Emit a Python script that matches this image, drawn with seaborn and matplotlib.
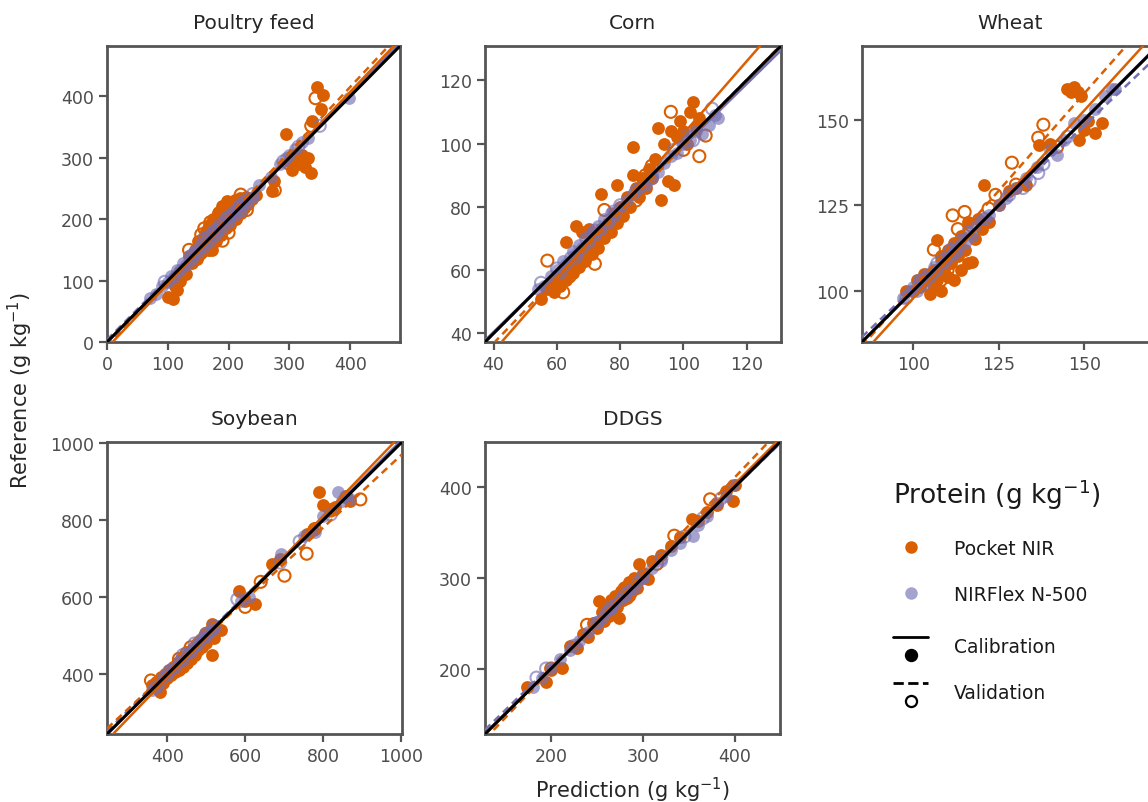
import numpy as np
import pandas as pd
import matplotlib
matplotlib.use("Agg")
import matplotlib.pyplot as plt
import seaborn as sns
from matplotlib.lines import Line2D
from matplotlib.legend_handler import HandlerBase

# (prediction, reference) pairs, protein in g/kg
poultry_pocket_cal = [(100, 74), (108, 70), (112, 92), (115, 85), (120, 100), (125, 118), (130, 110), (135, 140),
                      (140, 128), (145, 150), (148, 135), (150, 165), (155, 145), (158, 170), (160, 155), (163, 180),
                      (165, 160), (168, 190), (170, 172), (172, 150), (175, 200), (178, 185), (180, 165), (182, 210),
                      (185, 195), (188, 175), (190, 222), (193, 205), (195, 185), (198, 230), (200, 212), (203, 190),
                      (205, 228), (208, 215), (210, 232), (213, 200), (215, 225), (218, 235), (220, 210), (223, 230),
                      (225, 218), (228, 236), (232, 225), (238, 233), (245, 240), (272, 246), (275, 262), (295, 338),
                      (300, 295), (305, 280), (310, 300), (315, 290), (320, 305), (325, 285), (330, 300), (335, 275),
                      (338, 360), (346, 415), (352, 379), (356, 403)]
poultry_pocket_val = [(120, 112), (135, 150), (150, 140), (155, 175), (160, 185), (170, 195), (185, 210),
                      (190, 165), (200, 178), (210, 225), (220, 240), (168, 150), (230, 215), (276, 247),
                      (300, 290), (336, 352), (343, 397)]
poultry_flex_cal = [(70, 72), (80, 78), (90, 92), (100, 98), (105, 108), (110, 106), (115, 118), (120, 117),
                    (125, 128), (130, 126), (135, 140), (140, 135), (145, 150), (150, 146), (155, 160), (160, 155),
                    (165, 172), (170, 165), (175, 182), (180, 175), (185, 192), (190, 186), (195, 204), (200, 196),
                    (205, 212), (210, 206), (215, 222), (220, 214), (225, 232), (230, 226), (240, 236), (250, 255),
                    (270, 268), (285, 290), (295, 300), (300, 305), (310, 315), (320, 326), (330, 332), (398, 398)]
poultry_flex_val = [(95, 98), (140, 141), (160, 168), (180, 181), (200, 203), (220, 223), (240, 241), (290, 294),
                    (315, 318), (350, 352)]

corn_pocket_cal = [(55, 51), (57, 54), (58, 56), (59, 53), (60, 58), (61, 55), (62, 60), (63, 57), (63, 69),
                   (64, 62), (65, 59), (66, 64), (66, 74), (67, 61), (68, 66), (68, 72), (69, 63), (70, 68),
                   (70, 73), (71, 65), (72, 70), (73, 67), (74, 73), (74, 84), (75, 70), (76, 75), (77, 72),
                   (78, 78), (79, 75), (79, 87), (80, 80), (81, 77), (82, 83), (83, 80), (84, 99), (84, 90),
                   (85, 86), (86, 83), (87, 89), (88, 86), (89, 92), (90, 89), (91, 95), (92, 105), (93, 82),
                   (94, 100), (95, 88), (96, 104), (97, 87), (98, 102), (99, 107), (100, 104), (101, 100),
                   (102, 110), (103, 113), (104, 105), (105, 108)]
corn_pocket_val = [(57, 63), (62, 53), (64, 58), (70, 66), (75, 79), (80, 78), (85, 82), (90, 93), (96, 110),
                   (100, 98), (105, 96), (107, 102.5), (72, 62), (88, 90)]
corn_flex_cal = [(54, 54), (56, 55), (58, 58), (60, 60), (61, 59), (62, 63), (63, 62), (64, 64), (65, 66),
                 (66, 65), (67, 68), (68, 67), (69, 70), (70, 69), (71, 72), (72, 71), (73, 74), (74, 73),
                 (75, 76), (76, 75), (77, 78), (78, 77), (80, 80), (82, 82), (84, 84), (86, 86), (88, 87),
                 (90, 90), (92, 91), (94, 94), (96, 96), (98, 97), (100, 100), (101, 103), (102, 101),
                 (104, 104), (106, 103), (108, 106), (110, 109), (111, 108)]
corn_flex_val = [(55, 56), (60, 60.5), (66, 64), (72, 72.5), (78, 78.5), (85, 85), (90, 89), (97, 98), (103, 101),
                 (109, 111), (80, 80.5)]

wheat_pocket_cal = [(98, 100), (100, 100), (101, 103), (102, 101), (103, 105), (104, 103), (105, 99), (106, 101),
                    (106, 106), (107, 114.7), (107, 103), (108, 110), (108, 100), (109, 106), (110, 112),
                    (110, 104), (111, 108), (112, 114), (112, 103), (113, 110), (114, 116), (114, 106),
                    (115, 112), (116, 120), (116, 108), (117, 108.5), (118, 115), (119, 121), (120, 118),
                    (120.6, 130.9), (122, 120), (125, 125), (128, 129), (130, 130), (133, 131), (136.8, 142.6),
                    (140, 143), (145, 159), (146, 158), (147, 159.5), (148, 158), (149, 157), (148.5, 144),
                    (150, 147), (151, 149.7), (153, 146), (155, 149)]
wheat_pocket_val = [(103, 103), (105, 104), (106, 112), (108, 103), (110, 106), (111.5, 122), (113, 118),
                    (115, 123), (117, 119), (122, 124), (124, 128), (128.8, 137.4), (130, 131), (136.5, 144.7),
                    (138, 148.5), (142, 142)]
wheat_flex_cal = [(97, 98), (99, 100), (100, 101), (101, 100), (102, 103), (103, 102), (104, 105), (105, 104),
                  (106, 107), (107, 106), (108, 109), (109, 108), (110, 111), (111, 110), (112, 113), (113, 112),
                  (114, 115), (115, 114), (116, 117), (117, 116), (118, 119), (120, 121), (122, 122), (125, 125),
                  (127, 127), (130, 130), (133, 133), (136, 136), (140, 141), (142, 139.7), (144, 144),
                  (147, 149), (150, 150), (153, 153), (156, 157), (158, 158.8), (159, 159)]
wheat_flex_val = [(98, 98), (102, 103), (107, 108), (111, 112), (116, 117), (121, 121), (128, 128), (132, 130),
                  (134, 132), (136.5, 134.4), (138, 137), (145, 145), (112, 111)]

soybean_pocket_cal = [(360, 372), (370, 380), (380, 354), (385, 392), (390, 378), (395, 400), (400, 390),
                      (405, 410), (410, 398), (415, 420), (420, 405), (425, 430), (430, 412), (435, 440),
                      (440, 420), (445, 448), (450, 430), (455, 458), (460, 440), (465, 468), (470, 450),
                      (475, 478), (480, 462), (485, 490), (490, 470), (495, 500), (500, 480), (505, 510),
                      (514, 451), (515, 530), (520, 495), (538, 515), (584, 615), (600, 590), (626, 582),
                      (670, 687), (690, 700), (760, 765), (775, 775), (790, 872), (800, 840), (820, 830),
                      (830, 835), (870, 850)]
soybean_pocket_val = [(358, 384), (380, 370), (400, 395), (430, 440), (460, 470), (480, 480), (500, 505),
                      (600, 575), (640, 640), (701, 656), (758, 713), (779, 777), (820, 825), (860, 860),
                      (896, 854), (450, 455)]
soybean_flex_cal = [(360, 360), (375, 372), (390, 392), (400, 398), (410, 414), (420, 418), (430, 434),
                    (440, 438), (450, 455), (460, 458), (470, 474), (480, 478), (490, 494), (500, 498),
                    (510, 512), (520, 518), (590, 590), (610, 600), (693, 713), (750, 760), (780, 770),
                    (800, 810), (839, 872), (850, 850), (860, 860), (870, 855)]
soybean_flex_val = [(370, 365), (405, 408), (440, 450), (470, 480), (500, 505), (520, 525), (580, 595),
                    (690, 690), (740, 745), (820, 815)]

ddgs_pocket_cal = [(174, 180), (194.5, 185), (200, 198), (212, 201), (220, 225), (228, 222), (235, 238),
                   (240, 235), (245, 250), (250, 245), (252, 274), (255, 262), (258, 252), (260, 268),
                   (263, 258), (265, 275), (268, 262), (270, 280), (272, 268), (274, 255), (276, 285),
                   (278, 275), (280, 290), (282, 278), (285, 295), (288, 285), (290, 300), (293, 288),
                   (296, 315), (300, 305), (305, 298), (310, 318), (320, 325), (330, 335), (340, 345),
                   (353, 364), (360, 362), (370, 372), (380, 380), (390, 395), (398, 384), (400, 402)]
ddgs_pocket_val = [(200, 200), (239, 248), (260, 260), (270, 270), (285, 280), (300, 300), (315, 315),
                   (334, 346), (373, 386), (280, 288)]
ddgs_flex_cal = [(180, 180), (190, 190), (200, 201), (210, 210), (220, 220), (230, 230), (240, 240),
                 (250, 251), (255, 255), (260, 262), (265, 265), (270, 271), (275, 276), (280, 280),
                 (285, 286), (290, 289), (295, 296), (300, 300), (310, 310), (320, 318), (330, 330),
                 (340, 338), (354, 346), (360, 358), (370, 368), (380, 382), (390, 390), (398, 402)]
ddgs_flex_val = [(184, 190), (194.5, 200), (225, 225), (250, 250), (265, 267), (280, 281), (300, 301),
                 (320, 321), (345, 345), (365, 365), (385, 387)]

feeds = ["Poultry feed", "Corn", "Wheat", "Soybean", "DDGS"]
instruments = ["Pocket NIR", "NIRFlex N-500"]
sets = ["Calibration", "Validation"]

groups = {
    "Poultry feed": {("Pocket NIR", "Calibration"): poultry_pocket_cal, ("Pocket NIR", "Validation"): poultry_pocket_val,
                     ("NIRFlex N-500", "Calibration"): poultry_flex_cal, ("NIRFlex N-500", "Validation"): poultry_flex_val},
    "Corn": {("Pocket NIR", "Calibration"): corn_pocket_cal, ("Pocket NIR", "Validation"): corn_pocket_val,
             ("NIRFlex N-500", "Calibration"): corn_flex_cal, ("NIRFlex N-500", "Validation"): corn_flex_val},
    "Wheat": {("Pocket NIR", "Calibration"): wheat_pocket_cal, ("Pocket NIR", "Validation"): wheat_pocket_val,
              ("NIRFlex N-500", "Calibration"): wheat_flex_cal, ("NIRFlex N-500", "Validation"): wheat_flex_val},
    "Soybean": {("Pocket NIR", "Calibration"): soybean_pocket_cal, ("Pocket NIR", "Validation"): soybean_pocket_val,
                ("NIRFlex N-500", "Calibration"): soybean_flex_cal, ("NIRFlex N-500", "Validation"): soybean_flex_val},
    "DDGS": {("Pocket NIR", "Calibration"): ddgs_pocket_cal, ("Pocket NIR", "Validation"): ddgs_pocket_val,
             ("NIRFlex N-500", "Calibration"): ddgs_flex_cal, ("NIRFlex N-500", "Validation"): ddgs_flex_val},
}

rows = []
for feed, g in groups.items():
    for (inst, st), pairs in g.items():
        for p, r in pairs:
            rows.append(dict(feed=feed, instrument=inst, set=st, prediction=p, reference=r))
df = pd.DataFrame(rows)

# axis limits and ticks for each panel (shared range on x and y)
limits = {"Poultry feed": (0, 482), "Corn": (37.3, 130.8), "Wheat": (85, 171.5),
          "Soybean": (245, 1003), "DDGS": (128, 449)}
ticks = {"Poultry feed": [0, 100, 200, 300, 400], "Corn": [40, 60, 80, 100, 120],
         "Wheat": [100, 125, 150], "Soybean": [400, 600, 800, 1000], "DDGS": [200, 300, 400]}

colors = {"Pocket NIR": "#D95F02", "NIRFlex N-500": "#7570B3"}
alphas = {"Pocket NIR": 1.0, "NIRFlex N-500": 0.65}

sns.set_theme(style="ticks")
plt.rcParams["font.family"] = ["DejaVu Sans"]
spine_c = "#555555"
text_c = "#4d4d4d"

W, H = 1148, 803
fig = plt.figure(figsize=(W / 100, H / 100), dpi=100)

# panel boxes in pixels: left, top, right, bottom
boxes = {"Poultry feed": (107, 47, 400, 343), "Corn": (485, 47, 781, 343), "Wheat": (862, 47, 1158, 343),
         "Soybean": (107, 443, 402, 735), "DDGS": (485, 443, 780, 735)}

for feed in feeds:
    l, t, r, b = boxes[feed]
    ax = fig.add_axes([l / W, (H - b) / H, (r - l) / W, (b - t) / H])
    lo, hi = limits[feed]
    ax.set_xlim(lo, hi)
    ax.set_ylim(lo, hi)
    sub = df[df.feed == feed]
    for inst in instruments:
        c = colors[inst]
        d = sub[(sub.instrument == inst) & (sub.set == "Calibration")]
        sns.scatterplot(data=d, x="prediction", y="reference", ax=ax, s=85, color=c,
                        alpha=alphas[inst], linewidth=0, zorder=2)
        d = sub[(sub.instrument == inst) & (sub.set == "Validation")]
        sns.scatterplot(data=d, x="prediction", y="reference", ax=ax, s=75, facecolor="none",
                        edgecolor=c, alpha=alphas[inst], linewidth=1.5, zorder=2)
    for inst in instruments[::-1]:
        c = colors[inst]
        for st, ls in zip(sets, ["-", (0, (3, 2))]):
            d = sub[(sub.instrument == inst) & (sub.set == st)]
            sns.regplot(data=d, x="prediction", y="reference", ax=ax, scatter=False, ci=None,
                        truncate=False, color=c, line_kws=dict(lw=1.8, ls=ls, zorder=3))
    ax.axline((lo, lo), slope=1, color="black", lw=2.2, zorder=4)
    ax.set_xlim(lo, hi)
    ax.set_ylim(lo, hi)
    ax.set_xticks(ticks[feed])
    ax.set_yticks(ticks[feed])
    ax.set_xlabel("")
    ax.set_ylabel("")
    ax.set_title(feed, fontsize=14.5, color="#262626", pad=13)
    ax.tick_params(labelsize=12.5, colors=spine_c, labelcolor=text_c, width=1.6, length=6)
    for sp in ax.spines.values():
        sp.set_visible(True)
        sp.set_color(spine_c)
        sp.set_linewidth(2)

fig.text(633 / W, 1 - 790 / H, "Prediction (g kg$^{-1}$)", ha="center", va="center",
         fontsize=15, color="#262626")
fig.text(20 / W, 1 - 390 / H, "Reference (g kg$^{-1}$)", ha="center", va="center",
         rotation=90, fontsize=15, color="#262626")


class LineDotHandler(HandlerBase):
    def create_artists(self, legend, orig_handle, xdescent, ydescent, width, height, fontsize, trans):
        ls = orig_handle.get_linestyle()
        filled = orig_handle.get_label() == "filled"
        line = Line2D([-xdescent, -xdescent + width], [height * 1.15] * 2, color="black",
                      lw=2, ls=ls, transform=trans)
        dot = Line2D([width / 2 - xdescent], [-height * 0.2], marker="o", ms=8,
                     mfc="black" if filled else "white", mec="black", mew=1.6, ls="",
                     transform=trans)
        return [line, dot]


leg_kw = dict(frameon=False, fontsize=13.5, labelspacing=1.45, handlelength=1.9,
              handletextpad=1.35, alignment="left", loc="upper left")

h_pocket = Line2D([], [], marker="o", ls="", ms=9, mfc=colors["Pocket NIR"], mec="none")
h_flex = Line2D([], [], marker="o", ls="", ms=9, mfc=colors["NIRFlex N-500"], mec="none",
                alpha=alphas["NIRFlex N-500"])
leg1 = fig.legend([h_pocket, h_flex], instruments, bbox_to_anchor=(876 / W, 1 - 461 / H),
                  title="Protein (g kg$^{-1}$)", title_fontsize=19, **leg_kw)

h_cal = Line2D([], [], ls="-", label="filled")
h_val = Line2D([], [], ls=(0, (2.5, 1.5)), label="open")
leg2 = fig.legend([h_cal, h_val], sets, bbox_to_anchor=(876 / W, 1 - 621 / H),
                  handler_map={h_cal: LineDotHandler(), h_val: LineDotHandler()}, **leg_kw)

for leg in (leg1, leg2):
    for txt in leg.get_texts():
        txt.set_color("#1a1a1a")
leg1.get_title().set_color("#1a1a1a")

fig.savefig("out.png", dpi=100)
